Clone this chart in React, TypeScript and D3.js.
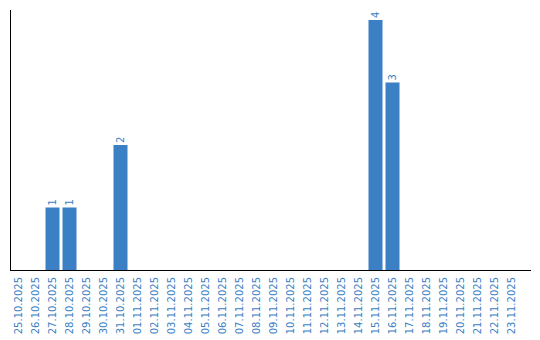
import React from "react";
import * as d3 from "d3";

const dates = [
  "25.10.2025","26.10.2025","27.10.2025","28.10.2025","29.10.2025","30.10.2025",
  "31.10.2025","01.11.2025","02.11.2025","03.11.2025","04.11.2025","05.11.2025",
  "06.11.2025","07.11.2025","08.11.2025","09.11.2025","10.11.2025","11.11.2025",
  "12.11.2025","13.11.2025","14.11.2025","15.11.2025","16.11.2025","17.11.2025",
  "18.11.2025","19.11.2025","20.11.2025","21.11.2025","22.11.2025","23.11.2025",
];
const counts = [0,0,1,1,0,0,2,0,0,0,0,0,0,0,0,0,0,0,0,0,0,4,3,0,0,0,0,0,0,0];

const W = 540, H = 340;
const BLUE = "#3b7fc4";
const FONT = "'DejaVu Sans', sans-serif";

export default function App() {
  const xs = d3.scaleBand<string>().domain(dates).range([10, 520]);
  const y = d3.scaleLinear().domain([0, 4]).range([270, 20]);
  const bw = 14;
  return (
    <svg width={W} height={H} style={{ position: "absolute", left: 0, top: 0 }}>
      {dates.map((d, i) => {
        const v = counts[i];
        const cx = (xs(d) as number) + xs.bandwidth() / 2;
        return (
          <g key={d}>
            {v > 0 && (
              <>
                <rect x={cx - bw / 2} y={y(v)} width={bw} height={y(0) - y(v)} fill={BLUE} />
                <text transform={`translate(${cx + 3.5},${y(v) - 2}) rotate(-90)`} fontFamily={FONT} fontSize={10} fill={BLUE}>{v}</text>
              </>
            )}
            <text transform={`translate(${cx + 3.5},277) rotate(-90)`} textAnchor="end" fontFamily={FONT} fontSize={10} fill={BLUE}>{d}</text>
          </g>
        );
      })}
      <line x1={10.5} y1={10} x2={10.5} y2={270} stroke="#000" strokeWidth={1} />
      <line x1={10} y1={270.5} x2={531} y2={270.5} stroke="#000" strokeWidth={1} />
    </svg>
  );
}
